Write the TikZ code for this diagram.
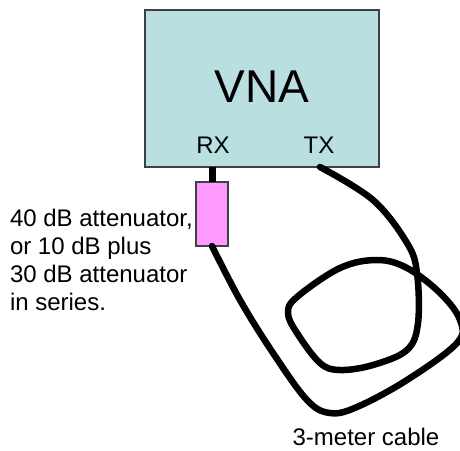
\documentclass[tikz,border=0pt]{standalone}
\usepackage{fontspec}
\setmainfont{Liberation Sans}
\definecolor{vnablue}{HTML}{B9DFE1}
\definecolor{attpink}{HTML}{FF99FF}
\definecolor{edgegray}{HTML}{404040}
\tikzset{cable/.style={line width=6.5pt,black,line cap=round,line join=round}}
\begin{document}
\begin{tikzpicture}[x=1pt,y=-1pt,every node/.style={inner sep=0,outer sep=0}]
    \useasboundingbox (0,0) rectangle (460,450);
    \node(vna)[draw=edgegray,line width=1.2pt,fill=vnablue,minimum width=234pt,minimum height=157pt] at (262,88.5) {};
    \node(vnalabel) at (262,87) {\fontsize{46}{46}\selectfont VNA};
    \node(rx) at (213,145) {\fontsize{24}{24}\selectfont RX};
    \node(tx) at (319,145) {\fontsize{24}{24}\selectfont TX};
    \node(att)[draw=edgegray,line width=1.2pt,fill=attpink,minimum width=32pt,minimum height=64pt] at (212,214) {};
    \coordinate(txport) at (320,167);
    \draw [line width=7pt] (att.north) -- (vna.south -| att.north);
    \draw [cable] plot[smooth,tension=.6] coordinates {(txport) (373,200) (407,243) (417,273) (418,323) (407,350) (373,365) (340,370) (320,363) (297,333) (288,313) (297,297) (340,268) (377,260) (407,268) (440,293) (460,320) (457,343) (407,380) (357,407) (330,413) (307,400) (273,353) (240,300) (att.south)};
    \node(attlabel)[align=left,anchor=north west,font=\fontsize{24}{28}\selectfont] at (10,209.5) {40 dB attenuator,\\or 10 dB plus\\30 dB attenuator\\in series.};
    \node(cablelabel)[anchor=center,font=\fontsize{24}{24}\selectfont] at (366,437) {3-meter cable};
\end{tikzpicture}
\end{document}
